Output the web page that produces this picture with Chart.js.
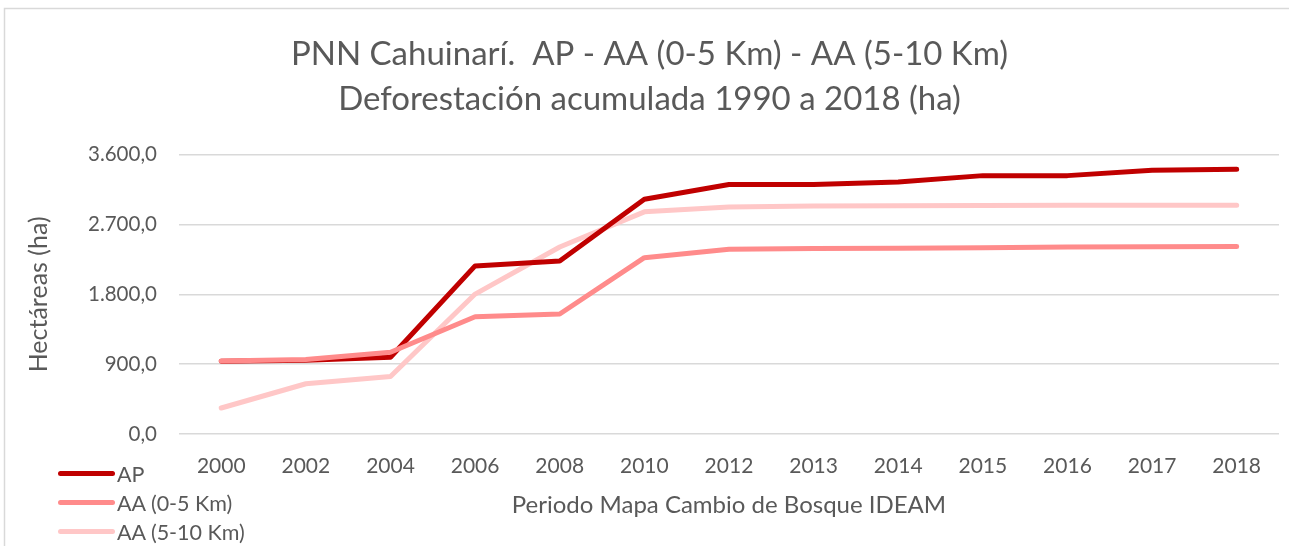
<!DOCTYPE html>
<html>
<head>
<meta charset="utf-8">
<script src="https://cdn.jsdelivr.net/npm/chart.js@4"></script>
<style>
  html, body { margin: 0; padding: 0; background: #fff; }
  #wrap { position: relative; width: 1289px; height: 546px; }
  #legend { position: absolute; left: 58px; top: 459px; font-family: Lato, sans-serif; font-size: 21.5px; color: #595959; }
  #legend div { height: 29px; display: flex; align-items: center; }
  #legend span.swatch { display: inline-block; width: 57px; height: 5px; border-radius: 3px; margin-right: 2px; }
</style>
</head>
<body>
<div id="wrap">
  <canvas id="chart" width="1289" height="546"></canvas>
  <div id="legend"></div>
</div>
<script>
// Periods of the IDEAM forest change map
const years = ['2000', '2002', '2004', '2006', '2008', '2010', '2012', '2013', '2014', '2015', '2016', '2017', '2018'];

// Accumulated deforestation (ha)
const apValues = [938, 951, 990, 2167, 2231, 3027, 3216, 3216, 3249, 3331, 3331, 3399, 3412];
const aa05Values = [940, 960, 1054, 1512, 1547, 2273, 2381, 2390, 2395, 2400, 2410, 2415, 2418];
const aa510Values = [335, 648, 742, 1804, 2411, 2864, 2928, 2940, 2943, 2946, 2948, 2948, 2948];

const seriesNames = ['AP', 'AA (0-5 Km)', 'AA (5-10 Km)'];
const seriesColors = ['#C00000', '#FF8B8B', '#FFC7C7'];

const textColor = '#595959';
const fontFamily = 'Lato, sans-serif';

// Format numbers like 3.600,0
function formatHa(value) {
    const parts = value.toFixed(1).split('.');
    const intPart = parts[0].replace(/\B(?=(\d{3})+(?!\d))/g, '.');
    return intPart + ',' + parts[1];
}

// Light frame around the chart (top and left edges)
const framePlugin = {
    id: 'frame',
    beforeDraw(chart) {
        const ctx = chart.ctx;
        ctx.save();
        ctx.strokeStyle = '#d9d9d9';
        ctx.lineWidth = 1.5;
        ctx.beginPath();
        ctx.moveTo(4.5, chart.height);
        ctx.lineTo(4.5, 8.5);
        ctx.lineTo(chart.width, 8.5);
        ctx.stroke();
        ctx.restore();
    }
};

const datasets = [apValues, aa05Values, aa510Values].map((values, i) => ({
    label: seriesNames[i],
    data: values,
    borderColor: seriesColors[i],
    backgroundColor: seriesColors[i],
    borderWidth: 5,
    pointRadius: 0,
    borderCapStyle: 'round',
    borderJoinStyle: 'round',
    tension: 0,
}));

// Draw order as in the original
datasets[0].order = 1;
datasets[1].order = 0;
datasets[2].order = 2;

const ctx = document.getElementById('chart').getContext('2d');
const chart = new Chart(ctx, {
    type: 'line',
    data: { labels: years, datasets: datasets },
    plugins: [framePlugin],
    options: {
        responsive: false,
        animation: false,
        layout: { padding: { top: 22, left: 20, right: 10, bottom: 22 } },
        plugins: {
            legend: { display: false },
            tooltip: { enabled: false },
            title: {
                display: true,
                text: ['PNN Cahuinarí.  AP - AA (0-5 Km) - AA (5-10 Km)', 'Deforestación acumulada 1990 a 2018 (ha)'],
                color: textColor,
                font: { family: fontFamily, size: 33, weight: 'normal', lineHeight: 1.36 },
                padding: { top: 10, bottom: 33 },
            },
        },
        scales: {
            x: {
                offset: true,
                grid: { display: false },
                border: { display: false },
                ticks: { color: textColor, font: { family: fontFamily, size: 21 }, padding: 12, maxRotation: 0 },
                title: {
                    display: true,
                    text: 'Periodo Mapa Cambio de Bosque IDEAM',
                    color: textColor,
                    font: { family: fontFamily, size: 24 },
                    padding: { top: 0, bottom: 4 },
                },
            },
            y: {
                min: 0,
                max: 3600,
                ticks: {
                    stepSize: 900,
                    color: textColor,
                    font: { family: fontFamily, size: 20.5 },
                    padding: 22,
                    callback: v => formatHa(v),
                },
                grid: { color: '#d9d9d9', lineWidth: 1.5, drawTicks: false },
                border: { display: false },
                title: {
                    display: true,
                    text: 'Hectáreas (ha)',
                    color: textColor,
                    font: { family: fontFamily, size: 25 },
                    padding: { bottom: 12 },
                },
            },
        },
    },
});

// Legend stacked at the bottom-left, like the original
const legend = document.getElementById('legend');
seriesNames.forEach((name, i) => {
    const row = document.createElement('div');
    const swatch = document.createElement('span');
    swatch.className = 'swatch';
    swatch.style.background = seriesColors[i];
    row.appendChild(swatch);
    row.appendChild(document.createTextNode(name));
    legend.appendChild(row);
});
</script>
</body>
</html>
